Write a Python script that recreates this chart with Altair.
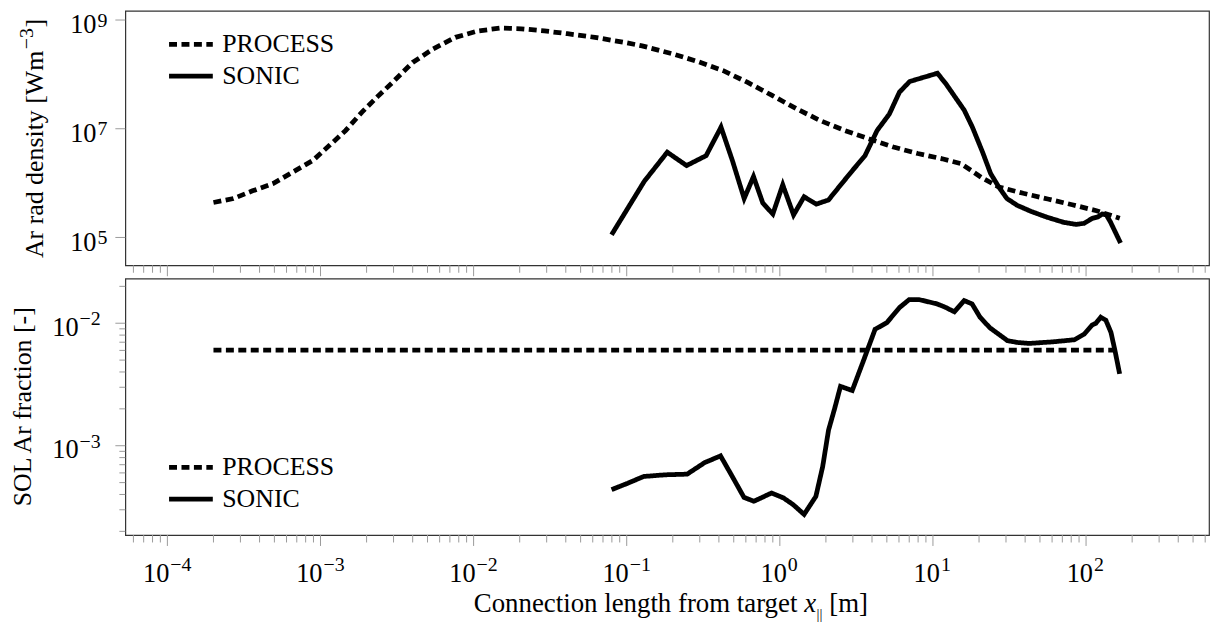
import altair as alt
import pandas as pd

FONT = "Liberation Serif"
FS = 26          # legend / y titles
LFS = 26.5       # tick label base "10"
EXP_FS = 20      # tick label exponent
TFS = 27         # x title
TICK = "#9a9a9a"
LW = 4.8

# ---------------- data ----------------
# top panel: Ar radiated power density [W m^-3]
proc_top_x = [2.0e-4, 2.7e-4, 3.6e-4, 4.9e-4, 6.6e-4, 8.9e-4, 1.15e-3, 1.46e-3, 1.86e-3,
              2.4e-3, 2.95e-3, 4.0e-3, 5.4e-3, 7.6e-3, 1.07e-2, 1.5e-2, 2.05e-2, 2.9e-2,
              4.1e-2, 6.2e-2, 0.1, 0.126, 0.204, 0.295, 0.427, 0.617, 0.89, 1.28, 1.84,
              2.65, 3.83, 5.52, 7.96, 11.5, 15.1, 17.6, 21.1, 26.9, 38.9, 56.2, 81.3, 117, 166]
proc_top_y = [4.4e5, 5.2e5, 7.2e5, 9.8e5, 1.6e6, 2.6e6, 5.0e6, 9.3e6, 2.0e7, 4.1e7, 7.1e7,
              1.66e8, 2.9e8, 4.8e8, 6.3e8, 7.1e8, 6.9e8, 6.3e8, 5.6e8, 4.8e8, 3.8e8, 3.35e8,
              2.34e8, 1.7e8, 1.17e8, 7.1e7, 4.1e7, 2.34e7, 1.41e7, 9.3e6, 6.5e6, 4.6e6, 3.5e6,
              2.8e6, 2.3e6, 1.74e6, 1.23e6, 8.5e5, 6.5e5, 5.1e5, 4.0e5, 3.1e5, 2.26e5]
sonic_top_x = [0.0796, 0.130, 0.184, 0.246, 0.330, 0.413, 0.49, 0.585, 0.673, 0.774, 0.90,
               1.045, 1.23, 1.44, 1.73, 2.08, 2.5, 3.0, 3.6, 4.32, 5.19, 6.04, 7.05, 10.7,
               12.2, 16.0, 18.1, 21.1, 23.8, 26.9, 30.4, 35.5, 43.9, 56, 71.4, 85.9, 97,
               109.6, 120, 127.6, 135.5, 144, 168]
sonic_top_y = [1.12e5, 1.07e6, 3.7e6, 2.1e6, 3.2e6, 1.07e7, 2.6e6, 5.2e5, 1.32e6, 4.3e5,
               2.7e5, 9.3e5, 2.6e5, 5.6e5, 4.1e5, 4.9e5, 9.3e5, 1.74e6, 3.2e6, 9.3e6,
               1.86e7, 4.7e7, 7.4e7, 1.05e8, 6.6e7, 2.2e7, 1.07e7, 3.7e6, 1.5e6, 8.5e5,
               5.2e5, 3.9e5, 3.0e5, 2.34e5, 1.9e5, 1.74e5, 1.82e5, 2.24e5, 2.4e5, 2.7e5,
               2.6e5, 1.95e5, 7.9e4]

# bottom panel: SOL Ar fraction [-]
proc_bot_x = [2.0e-4, 166]
proc_bot_y = [6.04e-3, 6.04e-3]
sonic_bot_x = [0.0796, 0.102, 0.129, 0.179, 0.248, 0.323, 0.41, 0.489, 0.583, 0.676, 0.883,
               1.055, 1.22, 1.44, 1.72, 1.905, 2.08, 2.28, 2.49, 2.97, 3.55, 4.19, 5.0, 6.04,
               7.0, 8.1, 10.6, 11.9, 13.8, 16.0, 18.0, 20.3, 23.5, 30.7, 35.6, 42.6, 60.7, 84,
               97.3, 109.6, 116, 124.8, 134.6, 145.5, 154.5, 165.7]
sonic_bot_y = [4.38e-4, 4.95e-4, 5.61e-4, 5.79e-4, 5.86e-4, 7.28e-4, 8.26e-4, 5.61e-4,
               3.79e-4, 3.52e-4, 4.11e-4, 3.75e-4, 3.31e-4, 2.75e-4, 3.86e-4, 6.76e-4,
               1.34e-3, 2.01e-3, 3.05e-3, 2.82e-3, 5.1e-3, 8.93e-3, 1.01e-2, 1.34e-2,
               1.56e-2, 1.56e-2, 1.44e-2, 1.36e-2, 1.24e-2, 1.53e-2, 1.44e-2, 1.12e-2,
               9.2e-3, 7.2e-3, 6.97e-3, 6.84e-3, 7.05e-3, 7.33e-3, 8.15e-3, 9.68e-3,
               1.0e-2, 1.12e-2, 1.06e-2, 8.4e-3, 5.97e-3, 3.86e-3]

series_names = ["PROCESS", "SONIC"]

# tick values and tick label exponents
x_major = [1e-4, 1e-3, 1e-2, 1e-1, 1.0, 10.0, 100.0]
x_major_exp = ["\u22124", "\u22123", "\u22122", "\u22121", "0", "1", "2"]
y1_major = [1e5, 1e7, 1e9]
y1_major_exp = ["5", "7", "9"]
y2_major = [1e-3, 1e-2]
y2_major_exp = ["\u22123", "\u22122"]

top_title = ["Ar rad density [Wm", "\u22123", "]"]
bot_title = ["SOL Ar fraction [-]"]
x_title = ["Connection length from target", "x", "||", "[m]"]

# ---------------- layout ----------------
W, H1, H2 = 1090, 256, 258
XLO, XHI = 10 ** -4.2747, 10 ** 2.803
Y1LO, Y1HI = 10 ** 4.488, 10 ** 9.170
Y2LO, Y2HI = 10 ** -3.729, 10 ** -1.635

x_minor = [m * 10.0 ** k for k in range(-5, 3) for m in range(2, 10)]
x_minor = [v for v in x_minor if XLO < v < XHI]
y2_minor = [m * 10.0 ** k for k in range(-4, -1) for m in range(2, 10)]
y2_minor = [v for v in y2_minor if Y2LO < v < Y2HI]

xs = alt.Scale(type="log", domain=[XLO, XHI], nice=False)
ys1 = alt.Scale(type="log", domain=[Y1LO, Y1HI], nice=False)
ys2 = alt.Scale(type="log", domain=[Y2LO, Y2HI], nice=False)

X = lambda: alt.X("x:Q", scale=xs, axis=None)


def series_df(px, py, sx, sy):
    return pd.concat([
        pd.DataFrame({"x": px, "y": py, "series": series_names[0]}),
        pd.DataFrame({"x": sx, "y": sy, "series": series_names[1]}),
    ], ignore_index=True)


def line_layer(df, ys, legend_y):
    return alt.Chart(df).mark_line(color="black", strokeWidth=LW).encode(
        x=X(),
        y=alt.Y("y:Q", scale=ys, axis=None),
        strokeDash=alt.StrokeDash(
            "series:N",
            scale=alt.Scale(domain=series_names, range=[[8, 4.5], [1, 0]]),
            legend=alt.Legend(
                title=None, orient="none", legendX=41.5, legendY=legend_y,
                symbolType="stroke", symbolSize=1936, symbolStrokeWidth=LW,
                symbolStrokeColor="black", labelFont=FONT, labelFontSize=FS,
                labelColor="black", labelOffset=7, clipHeight=32, rowPadding=0,
                padding=0, labelLimit=0,
            ),
        ),
    )


def x_ticks(H):
    maj = alt.Chart(pd.DataFrame({"x": x_major})).mark_rule(color=TICK, strokeWidth=1).encode(
        x=X(), y=alt.value(H), y2=alt.value(H + 11))
    mnr = alt.Chart(pd.DataFrame({"x": x_minor})).mark_rule(color=TICK, strokeWidth=1).encode(
        x=X(), y=alt.value(H), y2=alt.value(H + 7.5))
    return [maj, mnr]


def y_ticks(vals, ys, minor=None):
    out = [alt.Chart(pd.DataFrame({"y": vals})).mark_rule(color=TICK, strokeWidth=1).encode(
        y=alt.Y("y:Q", scale=ys, axis=None), x=alt.value(-10), x2=alt.value(0))]
    if minor:
        out.append(alt.Chart(pd.DataFrame({"y": minor})).mark_rule(color=TICK, strokeWidth=1).encode(
            y=alt.Y("y:Q", scale=ys, axis=None), x=alt.value(-6), x2=alt.value(0)))
    return out


def y_labels(vals, exps, ys, xr, dy_base, dy_exp):
    df = pd.DataFrame({"y": vals, "e": exps})
    base = alt.Chart(df).mark_text(font=FONT, fontSize=LFS, align="right", baseline="alphabetic",
                                   dy=dy_base, color="black").encode(
        y=alt.Y("y:Q", scale=ys, axis=None), x=alt.value(xr), text=alt.value("10"))
    ex = alt.Chart(df).mark_text(font=FONT, fontSize=EXP_FS, align="left", baseline="alphabetic",
                                 dy=dy_exp, color="black").encode(
        y=alt.Y("y:Q", scale=ys, axis=None), x=alt.value(xr + 1), text="e:N")
    return [base, ex]


def x_labels(H):
    df = pd.DataFrame({"x": x_major, "e": x_major_exp})
    out = []
    for sub, d in ((df[df.e.str.startswith("\u2212")], 2), (df[~df.e.str.startswith("\u2212")], 7)):
        out.append(alt.Chart(sub).mark_text(font=FONT, fontSize=LFS, align="right",
                                            baseline="alphabetic", dx=d, color="black").encode(
            x=X(), y=alt.value(H + 47), text=alt.value("10")))
        out.append(alt.Chart(sub).mark_text(font=FONT, fontSize=EXP_FS, align="left",
                                            baseline="alphabetic", dx=d + 1, color="black").encode(
            x=X(), y=alt.value(H + 36.3), text="e:N"))
    return out


def txt(s, **kw):
    return alt.Chart(pd.DataFrame({"t": [s]})).mark_text(font=FONT, color="black",
                                                          baseline="alphabetic", **kw)


# ---- top panel ----
top_lines = line_layer(series_df(proc_top_x, proc_top_y, sonic_top_x, sonic_top_y), ys1, 17.7)
tx0, ty0 = -82.3, 248.7
top_title_layers = [
    txt(top_title[0], fontSize=FS, angle=270, align="left").encode(
        x=alt.value(tx0), y=alt.value(ty0), text="t:N"),
    txt(top_title[1], fontSize=EXP_FS, angle=270, align="left", dx=210, dy=-10.7).encode(
        x=alt.value(tx0), y=alt.value(ty0), text="t:N"),
    txt(top_title[2], fontSize=FS, angle=270, align="left", dx=232).encode(
        x=alt.value(tx0), y=alt.value(ty0), text="t:N"),
]
top = alt.layer(
    top_lines,
    *x_ticks(H1),
    *y_ticks(y1_major, ys1),
    *y_labels(y1_major, y1_major_exp, ys1, -29, 13.5, 6.7),
    *top_title_layers,
).properties(width=W, height=H1)

# ---- bottom panel ----
bot_lines = line_layer(series_df(proc_bot_x, proc_bot_y, sonic_bot_x, sonic_bot_y), ys2, 174)
xt_y = H2 + 77
bot = alt.layer(
    bot_lines,
    *x_ticks(H2),
    *y_ticks(y2_major, ys2, y2_minor),
    *y_labels(y2_major, y2_major_exp, ys2, -47, 12.5, 2),
    *x_labels(H2),
    txt(bot_title[0], fontSize=FS, angle=270, align="center").encode(
        x=alt.value(-95), y=alt.value(H2 / 2), text="t:N"),
    txt(x_title[0], fontSize=TFS, align="right").encode(
        x=alt.value(676), y=alt.value(xt_y), text="t:N"),
    txt(x_title[1], fontSize=TFS, align="left", fontStyle="italic").encode(
        x=alt.value(682.8), y=alt.value(xt_y), text="t:N"),
    txt(x_title[2], fontSize=15, align="left", dy=7).encode(
        x=alt.value(695.3), y=alt.value(xt_y), text="t:N"),
    txt(x_title[3], fontSize=TFS, align="left").encode(
        x=alt.value(708), y=alt.value(xt_y), text="t:N"),
).properties(width=W, height=H2)

chart = (
    alt.vconcat(top, bot, spacing=13.3, bounds="flush")
    .resolve_scale(strokeDash="independent")
    .resolve_legend(strokeDash="independent")
    .properties(padding={"left": 1, "top": 0, "right": 0, "bottom": 0}, background="white")
    .configure(font=FONT)
    .configure_view(stroke="#333333", strokeWidth=1.2)
)

chart.save("out.html", embed_options={"renderer": "svg", "actions": False})
